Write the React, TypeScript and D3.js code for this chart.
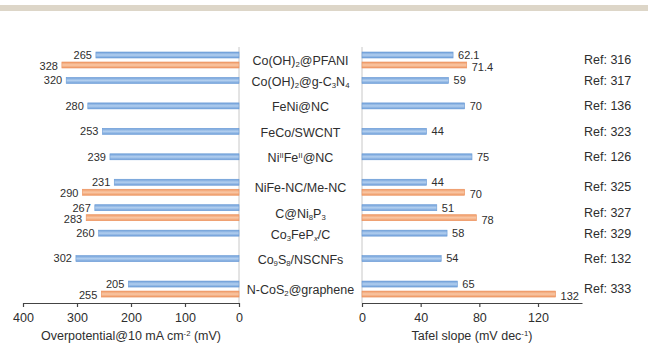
import React, { useRef, useEffect } from 'react';
import { select, scaleLinear, scaleBand, axisBottom } from 'd3';

const width = 648;
const height = 344;

// rows, top to bottom; _{..} = subscript, ^{..} = superscript
const categories = [
    'Co(OH)_{2}@PFANI',
    'Co(OH)_{2}@g-C_{3}N_{4}',
    'FeNi@NC',
    'FeCo/SWCNT',
    'Ni^{II}Fe^{II}@NC',
    'NiFe-NC/Me-NC',
    'C@Ni_{8}P_{3}',
    'Co_{3}FeP_{x}/C',
    'Co_{9}S_{8}/NSCNFs',
    'N-CoS_{2}@graphene',
];
const overpotentialA = [265, 320, 280, 253, 239, 231, 267, 260, 302, 205];
const overpotentialB = [328, null, null, null, null, 290, 283, null, null, 255];
const tafelA = [62.1, 59, 70, 44, 75, 44, 51, 58, 54, 65];
const tafelB = [71.4, null, null, null, null, 70, 78, null, null, 132];
const refs = ['316', '317', '136', '323', '126', '325', '327', '329', '132', '333'];

const overTicks = [0, 100, 200, 300, 400];
const tafelTicks = [0, 40, 80, 120];

const axisY = 303;
const barH = 6;
const textColor = '#2e2e2e';
const font = '"Liberation Sans", Arial, sans-serif';

const xLeft = scaleLinear().domain([0, 400]).range([239, 23]);
const xRight = scaleLinear().domain([0, 150]).range([362, 582]);
const y = scaleBand().domain(categories).range([45, 299.5]).padding(0);

// split label markup into tspans
const Label = ({ text }) => {
    const parts = [];
    const re = /([_^])\{([^}]*)\}/g;
    let last = 0;
    let m;
    let k = 0;
    while ((m = re.exec(text)) !== null) {
        if (m.index > last) parts.push(<tspan key={k++}>{text.slice(last, m.index)}</tspan>);
        const sub = m[1] === '_';
        parts.push(
            <tspan key={k++} fontSize="0.62em" baselineShift={sub ? '-25%' : '45%'}
                fontStyle={m[2] === 'x' ? 'italic' : 'normal'}>{m[2]}</tspan>
        );
        last = m.index + m[0].length;
    }
    if (last < text.length) parts.push(<tspan key={k++}>{text.slice(last)}</tspan>);
    return <>{parts}</>;
};

const App = () => {
    const leftAxis = useRef(null);
    const rightAxis = useRef(null);

    useEffect(() => {
        const style = (g) => {
            g.select('.domain').attr('stroke', '#444').attr('stroke-width', 1.2);
            g.selectAll('.tick line').attr('stroke', '#444').attr('stroke-width', 1.2);
            g.selectAll('.tick text')
                .attr('fill', textColor)
                .style('font-size', '12.5px')
                .style('font-family', font);
        };
        select(leftAxis.current)
            .call(axisBottom(xLeft).tickValues(overTicks).tickSize(4).tickSizeOuter(0).tickPadding(6))
            .call(style);
        select(rightAxis.current)
            .call(axisBottom(xRight).tickValues(tafelTicks).tickSize(4).tickSizeOuter(0).tickPadding(6))
            .call(style);
    }, []);

    const blueY = (c) => y(c) + 10;
    const orangeY = (c) => y(c) + 20;
    const labelY = (i) => (overpotentialB[i] != null ? y(categories[i]) + 15.5 : y(categories[i]) + 11);

    return (
        <svg width={width} height={height} style={{ position: 'absolute', left: 0, top: 0 }}
            fontFamily={font}>
            <defs>
                <linearGradient id="gBlue" x1="0" y1="0" x2="0" y2="1">
                    <stop offset="0%" stopColor="#6f9fd9" />
                    <stop offset="50%" stopColor="#b3cfef" />
                    <stop offset="100%" stopColor="#6f9fd9" />
                </linearGradient>
                <linearGradient id="gOrange" x1="0" y1="0" x2="0" y2="1">
                    <stop offset="0%" stopColor="#ef9864" />
                    <stop offset="50%" stopColor="#f9c8a6" />
                    <stop offset="100%" stopColor="#ef9864" />
                </linearGradient>
            </defs>
            <rect x={0} y={5} width={width} height={6} fill="#ddd6c8" />

            {/* zero lines */}
            <line x1={xLeft(0)} x2={xLeft(0)} y1={47} y2={axisY} stroke="#c8c8c8" />
            <line x1={xRight(0)} x2={xRight(0)} y1={47} y2={axisY} stroke="#c8c8c8" />

            {categories.map((c, i) => (
                <g key={c}>
                    {/* overpotential, left */}
                    <rect x={xLeft(overpotentialA[i])} y={blueY(c) - barH / 2}
                        width={xLeft(0) - xLeft(overpotentialA[i])} height={barH}
                        fill="url(#gBlue)" stroke="#6a9bd6" strokeWidth={0.6} />
                    <text x={xLeft(overpotentialA[i]) - 4} y={blueY(c)} dy="0.35em" textAnchor="end"
                        fontSize={11} fill={textColor}>{overpotentialA[i]}</text>
                    {overpotentialB[i] != null && (
                        <>
                            <rect x={xLeft(overpotentialB[i])} y={orangeY(c) - barH / 2}
                                width={xLeft(0) - xLeft(overpotentialB[i])} height={barH}
                                fill="url(#gOrange)" stroke="#ec925e" strokeWidth={0.6} />
                            <text x={xLeft(overpotentialB[i]) - 4} y={orangeY(c) + 1} dy="0.35em" textAnchor="end"
                                fontSize={11} fill={textColor}>{overpotentialB[i]}</text>
                        </>
                    )}

                    {/* tafel slope, right */}
                    <rect x={xRight(0)} y={blueY(c) - barH / 2}
                        width={xRight(tafelA[i]) - xRight(0)} height={barH}
                        fill="url(#gBlue)" stroke="#6a9bd6" strokeWidth={0.6} />
                    <text x={xRight(tafelA[i]) + 5} y={blueY(c)} dy="0.35em"
                        fontSize={11} fill={textColor}>{tafelA[i]}</text>
                    {tafelB[i] != null && (
                        <>
                            <rect x={xRight(0)} y={orangeY(c) - barH / 2}
                                width={xRight(tafelB[i]) - xRight(0)} height={barH}
                                fill="url(#gOrange)" stroke="#ec925e" strokeWidth={0.6} />
                            <text x={xRight(tafelB[i]) + 5} y={orangeY(c) + 2} dy="0.35em"
                                fontSize={11} fill={textColor}>{tafelB[i]}</text>
                        </>
                    )}

                    {/* category + reference */}
                    <text x={300.5} y={labelY(i)} dy="0.35em" textAnchor="middle"
                        fontSize={12.5} fill={textColor}><Label text={c} /></text>
                    <text x={584} y={labelY(i) - 1} dy="0.35em"
                        fontSize={12.5} fill={textColor}>Ref: {refs[i]}</text>
                </g>
            ))}

            <g ref={leftAxis} transform={`translate(0, ${axisY})`} />
            <g ref={rightAxis} transform={`translate(0, ${axisY})`} />

            <text x={(xLeft(0) + xLeft(400)) / 2} y={340} textAnchor="middle" fontSize={12.5} fill={textColor}>
                Overpotential@10 mA cm<tspan fontSize="0.62em" baselineShift="45%">-2</tspan> (mV)
            </text>
            <text x={(xRight(0) + xRight(150)) / 2} y={340} textAnchor="middle" fontSize={12.5} fill={textColor}>
                Tafel slope (mV dec<tspan fontSize="0.62em" baselineShift="45%">-1</tspan>)
            </text>
        </svg>
    );
};

export default App;
